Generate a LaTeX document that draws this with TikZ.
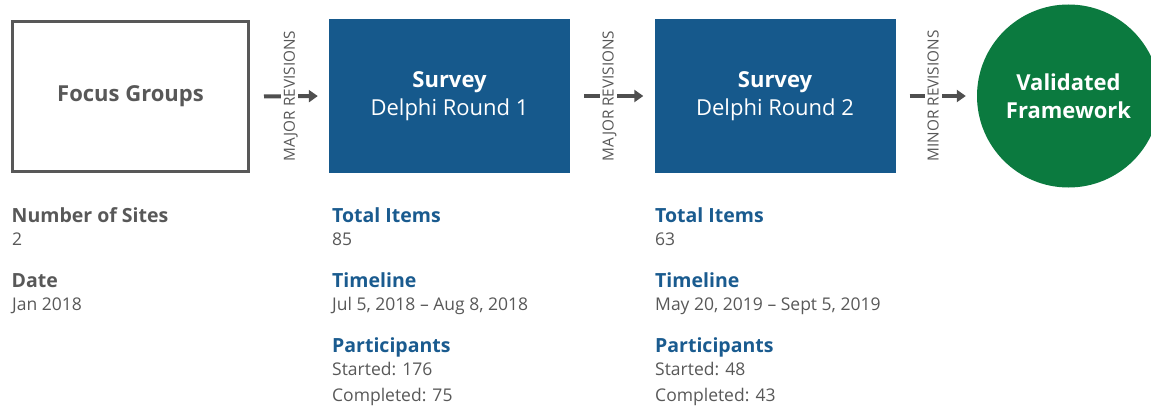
\documentclass[tikz,border=0pt]{standalone}
\usepackage{fontspec}
\setmainfont{Open Sans}
\usetikzlibrary{arrows.meta}

\definecolor{boxblue}{HTML}{16598C}
\definecolor{headblue}{HTML}{1A5B8F}
\definecolor{okgreen}{HTML}{0B7A3F}
\definecolor{inkgray}{HTML}{585858}
\definecolor{arrowgray}{HTML}{4F4F4F}

\begin{document}
\begin{tikzpicture}[x=1pt,y=-1pt,
  every node/.style={inner sep=0pt},
  outlinebox/.style={rectangle, draw=inkgray, line width=3pt, minimum width=236pt,
    minimum height=149pt, text=inkgray, font=\fontsize{22}{28}\selectfont\bfseries},
  stagebox/.style={rectangle, fill=boxblue, minimum width=241pt, minimum height=154pt,
    text=white, align=center, font=\fontsize{22}{28}\selectfont},
  goal/.style={circle, fill=okgreen, minimum size=183pt, text=white, align=center,
    font=\fontsize{22}{28}\selectfont\bfseries},
  conn/.style={draw=arrowgray, line width=4pt, shorten <=14pt, shorten >=11pt,
    -{Triangle[width=12pt,length=9pt]}},
  revlabel/.style={rotate=90, fill=white, inner xsep=0pt, inner ysep=3pt,
    text height=11pt, text depth=0pt, text=inkgray, font=\fontsize{15.3}{18}\selectfont},
  grayhead/.style={anchor=base west, text=inkgray, font=\fontsize{19.5}{24}\selectfont\bfseries},
  bluehead/.style={anchor=base west, text=headblue, font=\fontsize{19.5}{24}\selectfont\bfseries},
  body/.style={anchor=base west, text=inkgray, font=\fontsize{17.5}{22}\selectfont}]

\useasboundingbox (0,0) rectangle (1151,409);
\clip (0,0) rectangle (1151,409);

% process stages
\node[outlinebox] (fg) at (130.5,96.5) {Focus Groups};
\node[stagebox] (s1) at (449.5,96) {\textbf{Survey}\\Delphi Round 1};
\node[stagebox] (s2) at (775,96) {\textbf{Survey}\\Delphi Round 2};
\node[goal] (vf) at (1068.5,96) {Validated\\Framework};

% revision connectors
\draw[conn] (fg.east) -- (s1.west)
  node[revlabel, pos=0.5] (r1) {MAJOR REVISIONS};
\draw[conn] (s1.east) -- (s2.west)
  node[revlabel, pos=0.45] (r2) {MAJOR REVISIONS};
\draw[conn] (s2.east) -- (vf.west)
  node[revlabel, pos=0.46] (r3) {MINOR REVISIONS};

% focus group details
\node[grayhead] (fgh1) at (11.5,222) {Number of Sites};
\node[body] (fgb1) at (12,245) {2};
\node[grayhead] (fgh2) at (11.5,287) {Date};
\node[body] (fgb2) at (12,310) {Jan 2018};

% round 1 details
\node[bluehead] (ah1) at (332,222) {Total Items};
\node[body] (ab1) at (332,245) {85};
\node[bluehead] (ah2) at (332,287) {Timeline};
\node[body] (ab2) at (332,310) {Jul 5, 2018 – Aug 8, 2018};
\node[bluehead] (ah3) at (332,352) {Participants};
\node[body] (ab3) at (332,375) {Started: 176};
\node[body] (ab4) at (332,401) {Completed: 75};

% round 2 details
\node[bluehead] (bh1) at (655,222) {Total Items};
\node[body] (bb1) at (655,245) {63};
\node[bluehead] (bh2) at (655,287) {Timeline};
\node[body] (bb2) at (655,310) {May 20, 2019 – Sept 5, 2019};
\node[bluehead] (bh3) at (655,352) {Participants};
\node[body] (bb3) at (655,375) {Started: 48};
\node[body] (bb4) at (655,401) {Completed: 43};
\end{tikzpicture}
\end{document}
